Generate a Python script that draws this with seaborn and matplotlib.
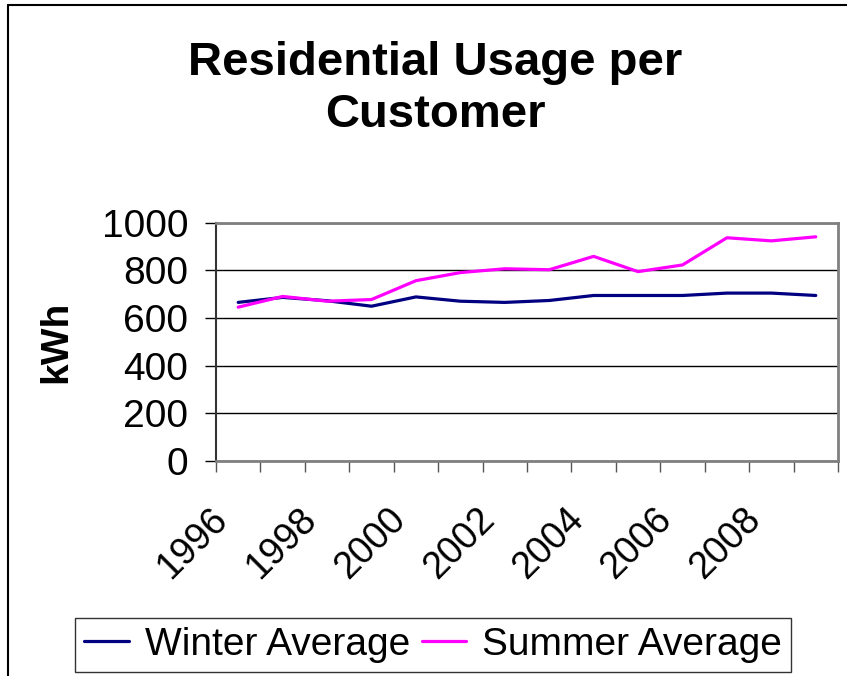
import matplotlib
matplotlib.use("Agg")
import matplotlib.pyplot as plt
import matplotlib.transforms as mtransforms
from matplotlib.lines import Line2D
import pandas as pd
import seaborn as sns

years = list(range(1996, 2010))
winter_avg = [665, 686, 672, 649, 688, 670, 665, 673, 694, 694, 694, 704, 704, 694]
summer_avg = [645, 690, 670, 677, 756, 790, 806, 802, 858, 794, 822, 936, 923, 940]
series_names = ["Winter Average", "Summer Average"]
year_labels = [str(y) for y in years[::2]]

df = pd.concat([
    pd.DataFrame({"Year": years, "kWh": winter_avg, "Series": series_names[0]}),
    pd.DataFrame({"Year": years, "kWh": summer_avg, "Series": series_names[1]}),
])

sns.set_style("white")
plt.rcParams["font.family"] = ["Liberation Sans", "DejaVu Sans"]
plt.rcParams.update({"text.color": "black", "axes.labelcolor": "black",
                     "xtick.color": "black", "ytick.color": "black"})

fig = plt.figure(figsize=(8.47, 6.76), dpi=100)
ax = fig.add_axes([216 / 847, 1 - 461 / 676, (838 - 216) / 847, (461 - 222.5) / 676])

sns.lineplot(data=df, x="Year", y="kWh", hue="Series", ax=ax,
             palette={"Winter Average": "#000080", "Summer Average": "#FF00FF"},
             linewidth=2.3, legend=False)

ax.set_xlim(1995.5, 2009.5)
ax.set_ylim(0, 1000)
ax.set_yticks(range(0, 1001, 200))
ax.tick_params(axis="y", labelsize=28, length=8, width=1, color="black",
               labelcolor="black", direction="out", left=True, pad=12)
ax.grid(axis="y", color="black", linewidth=1)
ax.set_axisbelow(True)

# category axis: tick marks between years, labels every other year
ax.set_xticks(years[::2])
ax.set_xticklabels(year_labels)
ax.set_xticks([y - 0.5 for y in years] + [2009.5], minor=True)
ax.tick_params(axis="x", which="major", length=0, labelsize=27, labelcolor="black")
ax.tick_params(axis="x", which="minor", length=8, width=1, color="#555555", direction="out", bottom=True)
offset = mtransforms.ScaledTranslation(-16 / 100, -48 / 100, fig.dpi_scale_trans)
for lbl in ax.get_xticklabels():
    lbl.set_rotation(45)
    lbl.set_ha("right")
    lbl.set_va("center")
    lbl.set_rotation_mode("anchor")
    lbl.set_transform(lbl.get_transform() + offset)

for side in ["top", "right", "bottom"]:
    ax.spines[side].set_color("#808080")
    ax.spines[side].set_linewidth(2)
ax.spines["left"].set_color("#333333")
ax.spines["left"].set_linewidth(1.5)

ax.set_xlabel("")
ax.set_ylabel("kWh", fontsize=28, fontweight="bold", labelpad=20)

fig.text(0.514, 1 - 89 / 676, "Residential Usage per\nCustomer", ha="center", va="center",
         fontsize=34, fontweight="bold", linespacing=1.23)

handles = [Line2D([], [], color="#000080", linewidth=2.3),
           Line2D([], [], color="#FF00FF", linewidth=2.3)]
leg = fig.legend(handles, series_names, loc="center", bbox_to_anchor=(433 / 847, 1 - 645 / 676),
                 ncol=2, fontsize=28, frameon=True, fancybox=False, handlelength=1.15,
                 handletextpad=0.4, columnspacing=0.3, borderpad=0.23, borderaxespad=0)
leg.get_frame().set_edgecolor("black")
leg.get_frame().set_linewidth(1)

# outer chart border
fig.add_artist(Line2D([8 / 847, 8 / 847], [0, 1 - 5 / 676], color="black", linewidth=1.5))
fig.add_artist(Line2D([8 / 847, 1], [1 - 5 / 676, 1 - 5 / 676], color="black", linewidth=1.5))

fig.savefig("out.png", dpi=100)
